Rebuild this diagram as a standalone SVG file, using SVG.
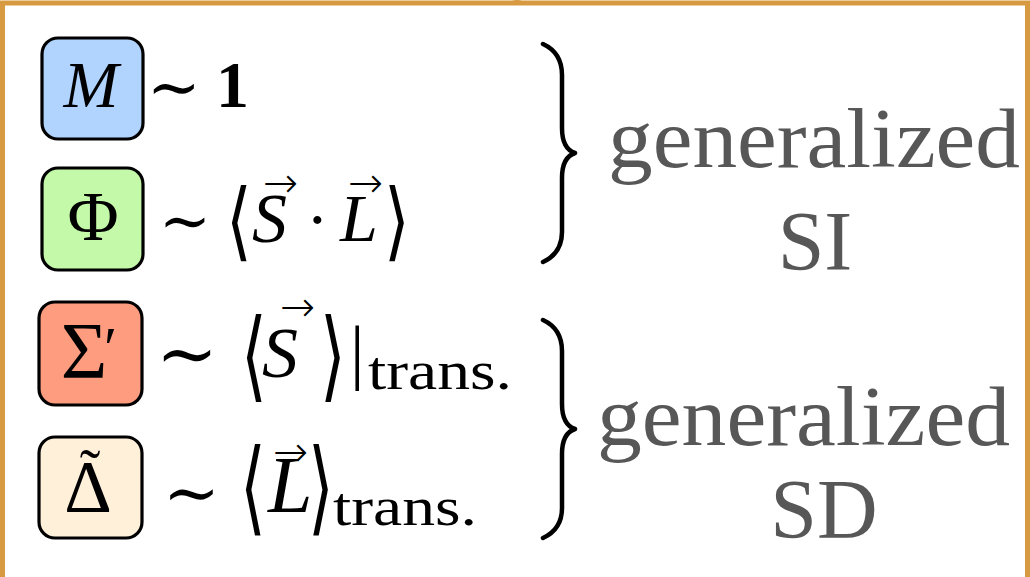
<svg xmlns="http://www.w3.org/2000/svg" width="1030" height="577" viewBox="0 0 1030 577">
  <style>
    .box { stroke: #000; stroke-width: 3.2; }
    .m { font-family: "Liberation Serif", "DejaVu Serif", serif; fill: #000; }
    .it { font-style: italic; }
    .sym { font-family: "DejaVu Serif", "DejaVu Sans", serif; fill: #000; }
    .ang { font-family: "DejaVu Sans", "DejaVu Serif", sans-serif; fill: #000; font-size: 66px; font-weight: 200; }
    .vec { font-family: "DejaVu Sans", sans-serif; fill: #000; font-size: 42px; font-weight: 200; }
    .lab { font-family: "Liberation Serif", serif; fill: #575757; font-size: 84px; }
    .brace { fill: none; stroke: #000; stroke-width: 4.5; stroke-linecap: round; stroke-linejoin: round; }
  </style>
  <rect x="0" y="0" width="1030" height="577" fill="#fff"/>
  <!-- frame -->
  <path d="M2.5,577 L2.5,3 L1027.5,3 L1027.5,577" fill="none" stroke="#D89A40" stroke-width="5"/>
  <path d="M512,1 Q517,-1 522,1 L522,3 L512,3 Z" fill="#D89A40"/>

  <g id="node-M">
    <rect class="box" x="42" y="38" width="101" height="101" rx="16" fill="#B0D4FD"/>
    <text class="m it" x="91" y="107" font-size="66" text-anchor="middle">M</text>
  </g>
  <g id="eq-M">
    <text class="sym" x="147" y="108.5" font-size="64">∼</text>
    <text class="m" x="216" y="107" font-size="66" font-weight="bold">1</text>
  </g>

  <g id="node-Phi">
    <rect class="box" x="42" y="168" width="101" height="102" rx="16" fill="#C3F9A9"/>
    <text class="m" x="93" y="240" font-size="70" text-anchor="middle">Φ</text>
  </g>
  <g id="eq-Phi">
    <text class="sym" x="159" y="242" font-size="62">∼</text>
    <text class="ang" transform="translate(226,250) scale(1,1.3)">⟨</text>
    <text class="m it" x="252" y="242" font-size="70">S</text>
    <text class="vec" x="263" y="197">→</text>
    <text class="m" x="306" y="242" font-size="68">·</text>
    <text class="m it" x="340" y="241" font-size="68">L</text>
    <text class="vec" x="348" y="197">→</text>
    <text class="ang" transform="translate(384,250) scale(1,1.3)">⟩</text>
  </g>

  <g id="node-Sigma">
    <rect class="box" x="39" y="302" width="103" height="103" rx="16" fill="#FE9C7F"/>
    <text class="m" x="84" y="378" font-size="80" text-anchor="middle">Σ</text>
    <text class="m" x="104" y="368" font-size="60">′</text>
  </g>
  <g id="eq-Sigma">
    <text class="sym" x="156" y="378.5" font-size="74">∼</text>
    <text class="ang" transform="translate(241,389) scale(1,1.5)">⟨</text>
    <text class="m it" x="262" y="377" font-size="72">S</text>
    <text class="vec" x="280" y="321">→</text>
    <text class="ang" transform="translate(320,389) scale(1,1.5)">⟩</text>
    <text class="m" x="350" y="376" font-size="72">|</text>
    <text class="m" x="368" y="389" font-size="54" textLength="144" lengthAdjust="spacingAndGlyphs">trans.</text>
  </g>

  <g id="node-Delta">
    <rect class="box" x="39" y="437" width="103" height="101" rx="16" fill="#FFF0DA"/>
    <text class="m" x="88" y="512" font-size="74" text-anchor="middle">Δ</text>
    <text class="m" x="90" y="492" font-size="62" text-anchor="middle">˜</text>
  </g>
  <g id="eq-Delta">
    <text class="sym" x="163" y="516" font-size="68">∼</text>
    <text class="ang" transform="translate(240,522) scale(1,1.56)">⟨</text>
    <text class="m it" x="268" y="512" font-size="80">L</text>
    <text class="vec" x="273" y="466">→</text>
    <text class="ang" transform="translate(308,522) scale(1,1.56)">⟩</text>
    <text class="m" x="333" y="525" font-size="54" textLength="144" lengthAdjust="spacingAndGlyphs">trans.</text>
  </g>

  <g id="connectors">
    <path class="brace" d="M543,44 C556,50 562,60 562,75 L562,128 C562,142 566,150 575,153 C566,156 562,164 562,178 L562,232 C562,246 556,256 543,262"/>
    <path class="brace" transform="translate(0,276)" d="M543,44 C556,50 562,60 562,75 L562,128 C562,142 566,150 575,153 C566,156 562,164 562,178 L562,232 C562,246 556,256 543,262"/>
  </g>

  <g id="label-SI">
    <text class="lab" x="608" y="167" textLength="412" lengthAdjust="spacingAndGlyphs">generalized</text>
    <text class="lab" x="815" y="270" text-anchor="middle">SI</text>
  </g>
  <g id="label-SD">
    <text class="lab" x="597" y="445" textLength="413" lengthAdjust="spacingAndGlyphs">generalized</text>
    <text class="lab" x="824" y="538" text-anchor="middle">SD</text>
  </g>
</svg>
